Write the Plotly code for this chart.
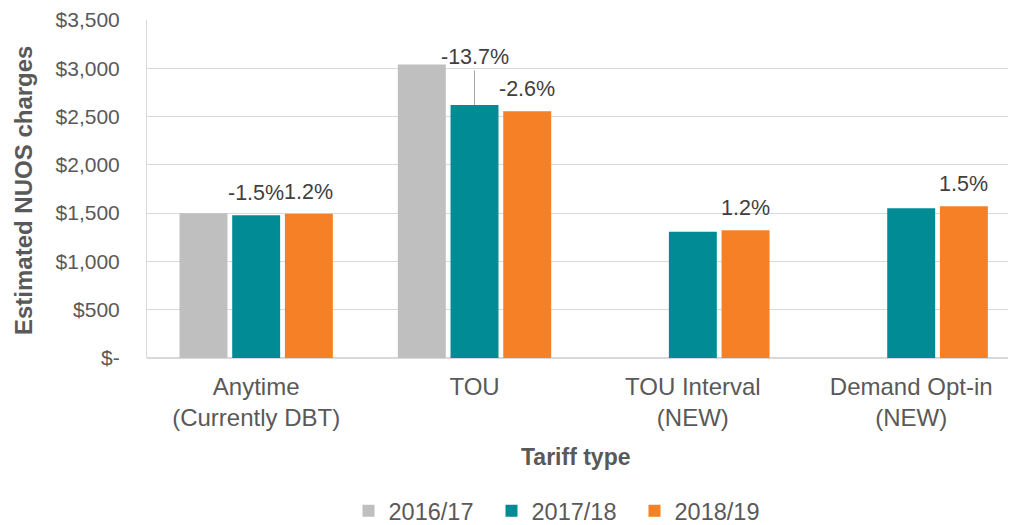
import plotly.graph_objects as go

categories = ["Anytime<br>(Currently DBT)", "TOU", "TOU Interval<br>(NEW)", "Demand Opt-in<br>(NEW)"]
series_names = ["2016/17", "2017/18", "2018/19"]
values_2016 = [1500, 3040, None, None]
values_2017 = [1477, 2620, 1308, 1550]
values_2018 = [1495, 2555, 1324, 1572]
labels_2017 = ["-1.5%", "-13.7%", None, None]
labels_2018 = ["1.2%", "-2.6%", "1.2%", "1.5%"]
colors = ["#bfbfbf", "#008b95", "#f58025"]
ytick_vals = [0, 500, 1000, 1500, 2000, 2500, 3000, 3500]
ytick_text = ["$-", "$500", "$1,000", "$1,500", "$2,000", "$2,500", "$3,000", "$3,500"]

FONT = "Liberation Sans, Arial, sans-serif"
TXT = "#595959"
LBL = "#404040"
BARGAP = 0.276
slot = (1 - BARGAP) / 3
xs = list(range(len(categories)))

# page body has an 8px margin, so the figure is sized/offset to compensate
OFF = 8
W, H = 1016 - OFF, 525 - OFF
L, R, T, B = 147 - OFF, 0, 20 - OFF, 525 - 358
pw, ph = W - L - R, H - T - B


def px_to_paper(x, y):
    return (x - OFF - L) / pw, (H - B - (y - OFF)) / ph


fig = go.Figure()
for name, vals, col in zip(series_names, [values_2016, values_2017, values_2018], colors):
    fig.add_trace(go.Bar(x=xs, y=vals, name=name, marker=dict(color=col, line=dict(width=0))))

annotations = []
for i, (lab, v) in enumerate(zip(labels_2017, values_2017)):
    if lab is None:
        continue
    if lab == "-13.7%":
        annotations.append(dict(x=xs[i], y=v, xref="x", yref="y", text=lab, showarrow=True,
                                arrowhead=0, arrowwidth=1, arrowcolor="#a6a6a6", ax=0, ay=-48,
                                font=dict(family=FONT, size=21.5, color=LBL)))
    else:
        annotations.append(dict(x=xs[i], y=v, xref="x", yref="y", text=lab, showarrow=False,
                                yanchor="bottom", yshift=8,
                                font=dict(family=FONT, size=21.5, color=LBL)))
for i, (lab, v) in enumerate(zip(labels_2018, values_2018)):
    if lab is None:
        continue
    annotations.append(dict(x=xs[i] + slot, y=v, xref="x", yref="y", text=lab, showarrow=False,
                            yanchor="bottom", yshift=8,
                            font=dict(family=FONT, size=21.5, color=LBL)))

tx, ty = px_to_paper(575, 457)
annotations.append(dict(x=tx, y=ty, xref="paper", yref="paper", text="<b>Tariff type</b>",
                        showarrow=False, xanchor="center", yanchor="middle",
                        font=dict(family=FONT, size=23, color=TXT)))
yx, yy = px_to_paper(23, 191)
annotations.append(dict(x=yx, y=yy, xref="paper", yref="paper", text="<b>Estimated NUOS charges</b>",
                        showarrow=False, textangle=-90, xanchor="center", yanchor="middle",
                        font=dict(family=FONT, size=24, color=TXT)))

lx, ly = px_to_paper(563, 511)

fig.update_layout(
    width=W, height=H,
    margin=dict(l=L, r=R, t=T, b=B, autoexpand=False),
    paper_bgcolor="white", plot_bgcolor="white",
    barmode="group", bargap=BARGAP, bargroupgap=0.09,
    font=dict(family=FONT, color=TXT),
    showlegend=True,
    legend=dict(orientation="h", x=lx, xanchor="center", y=ly,
                yanchor="middle", font=dict(family=FONT, size=23.5, color=TXT), itemwidth=30,
                traceorder="normal", entrywidth=98),
    annotations=annotations,
    xaxis=dict(tickvals=xs, ticktext=categories, range=[-0.5, 3.48], showgrid=False,
               zeroline=False, showline=False, ticks="", ticklabelstandoff=12, automargin=False,
               tickfont=dict(family=FONT, size=24, color=TXT)),
    yaxis=dict(range=[0, 3500], tickvals=ytick_vals, ticktext=ytick_text, showgrid=True,
               gridcolor="#d9d9d9", gridwidth=1, zeroline=True, zerolinecolor="#d9d9d9",
               showline=True, linecolor="#d9d9d9", linewidth=1, ticks="", ticklabelstandoff=22,
               automargin=False, tickfont=dict(family=FONT, size=21, color=TXT)),
)

fig.write_html("out.html")
